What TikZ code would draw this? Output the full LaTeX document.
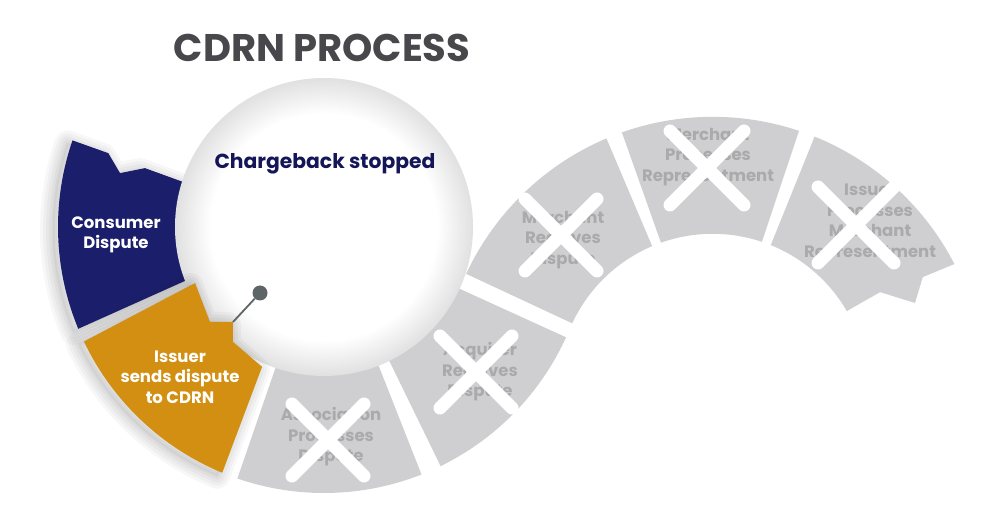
\documentclass[tikz,border=0pt]{standalone}
\usepackage{fontspec}
\setmainfont{Poppins}
\definecolor{navy}{RGB}{27,31,107}
\definecolor{gold}{RGB}{210,143,18}
\definecolor{seggray}{RGB}{207,207,209}
\definecolor{graytxt}{RGB}{170,170,173}
\definecolor{titlegray}{RGB}{72,72,76}
\definecolor{inknavy}{RGB}{20,22,88}
\definecolor{dotgray}{RGB}{94,101,102}
\pgfdeclareradialshading{ballrim}{\pgfpoint{0bp}{0bp}}{color(0bp)=(white); color(19bp)=(white); color(25bp)=(black!12); color(50bp)=(black!12)}
\tikzstyle{seg}=[fill=seggray]
\tikzstyle{soft}=[preaction={draw=black, opacity=0.03, line width=26pt, line join=round, transform canvas={shift={(-5pt,-3pt)}}},
                  preaction={draw=black, opacity=0.03, line width=20pt, line join=round, transform canvas={shift={(-5pt,-3pt)}}},
                  preaction={draw=black, opacity=0.03, line width=14pt, line join=round, transform canvas={shift={(-5pt,-3pt)}}},
                  preaction={draw=black, opacity=0.03, line width=8pt, line join=round, transform canvas={shift={(-5pt,-3pt)}}},
                  preaction={draw=black, fill=black, opacity=0.03, line width=3pt, line join=round, transform canvas={shift={(-5pt,-3pt)}}}]
\tikzstyle{xmark}=[draw=white, line width=13pt, line cap=round]
\tikzstyle{glabel}=[text=graytxt, align=center, font=\bfseries\fontsize{16.5}{20.5}\selectfont]
\tikzstyle{wlabel}=[text=white, align=center, font=\bfseries\fontsize{16.5}{20.5}\selectfont]
\tikzstyle{dot}=[circle, inner sep=0pt, minimum size=15pt, fill=dotgray]

\begin{document}
\begin{tikzpicture}[x=1pt,y=1pt]
      \useasboundingbox (0,0) rectangle (993,525);
      \fill[white] (0,0) rectangle (993,525);

      \begin{scope}[shift={(324,298)}]
        \fill[seg] (251:140) arc[start angle=251, end angle=291.5, radius=140] -- (291.5:266) arc[start angle=291.5, end angle=251, radius=266] -- cycle;
        \fill[seg] (296:140) arc[start angle=296, end angle=335.5, radius=140] -- (335.5:266) arc[start angle=335.5, end angle=296, radius=266] -- cycle;
        \fill[navy, soft] (161:266) -- (161.1:228) -- (165.2:211) -- (161.8:188.5) -- (162.4:140) arc[start angle=162.4, end angle=201, radius=140] -- (202.5:266) arc[start angle=202.5, end angle=161, radius=266] -- cycle;
      \end{scope}

      \begin{scope}[shift={(712.7,136.2)}]
        \fill[seg] (155:155) -- (155:272) arc[start angle=155, end angle=113, radius=272] -- (113:155) arc[start angle=113, end angle=155, radius=155] -- cycle;
        \fill[seg] (109.5:155) -- (109.5:272) arc[start angle=109.5, end angle=71.5, radius=272] -- (71.5:155) arc[start angle=71.5, end angle=109.5, radius=155] -- cycle;
        \fill[seg] (68:155) -- (68:272) arc[start angle=68, end angle=27.3, radius=272] -- (28:238) -- (23:219.7) -- (30:193.3) -- (30.1:155) arc[start angle=30.1, end angle=68, radius=155] -- cycle;
      \end{scope}

      \shade[shading=ballrim] (324,298) circle (149);

      \begin{scope}[shift={(324,298)}]
        \fill[gold, soft] (205.5:266) -- (203.5:140.6) -- (219.8:148.4) -- (226.2:131.5) -- (231.6:146.6) -- (246.1:153) -- (247.5:266) arc[start angle=247.5, end angle=205.5, radius=266] -- cycle;
      \end{scope}

      \coordinate (p1) at (233,203);
      \node[dot] (d1) at (260,232) {};
      \draw[draw=dotgray, line width=1.8pt] (p1) -- (d1);

      \node[text=titlegray, font=\bfseries\fontsize{38.5}{44}\selectfont] (t0) at (322,477) {CDRN PROCESS};
      \node[text=inknavy, font=\bfseries\fontsize{20.3}{25}\selectfont] (t1) at (325,361) {Chargeback stopped};
      \node[wlabel] (t2) at (116,290) {Consumer\\Dispute};
      \node[wlabel] (t3) at (180,148) {Issuer\\sends dispute\\to CDRN};

      \node[glabel] (g1) at (331,88) {Association\\Processes\\Dispute};
      \node[glabel] (g2) at (480,153) {Acquirer\\Receives\\Dispute};
      \node[glabel] (g3) at (563,285) {Merchant\\Receives\\Dispute};
      \node[glabel] (g4) at (708,368) {Merchant\\Processes\\Representment};
      \node[glabel] (g5) at (870,302) {Issuer\\Processes\\Merchant\\Representment};

      \draw[xmark] (292,121) -- (364,49);
      \draw[xmark] (292,49) -- (364,121);
      \draw[xmark] (440,189) -- (512,117);
      \draw[xmark] (440,117) -- (512,189);
      \draw[xmark] (525,326) -- (597,254);
      \draw[xmark] (525,254) -- (597,326);
      \draw[xmark] (670,394) -- (744,320);
      \draw[xmark] (670,320) -- (744,394);
      \draw[xmark] (818,338) -- (894,262);
      \draw[xmark] (818,262) -- (894,338);
\end{tikzpicture}
\end{document}
